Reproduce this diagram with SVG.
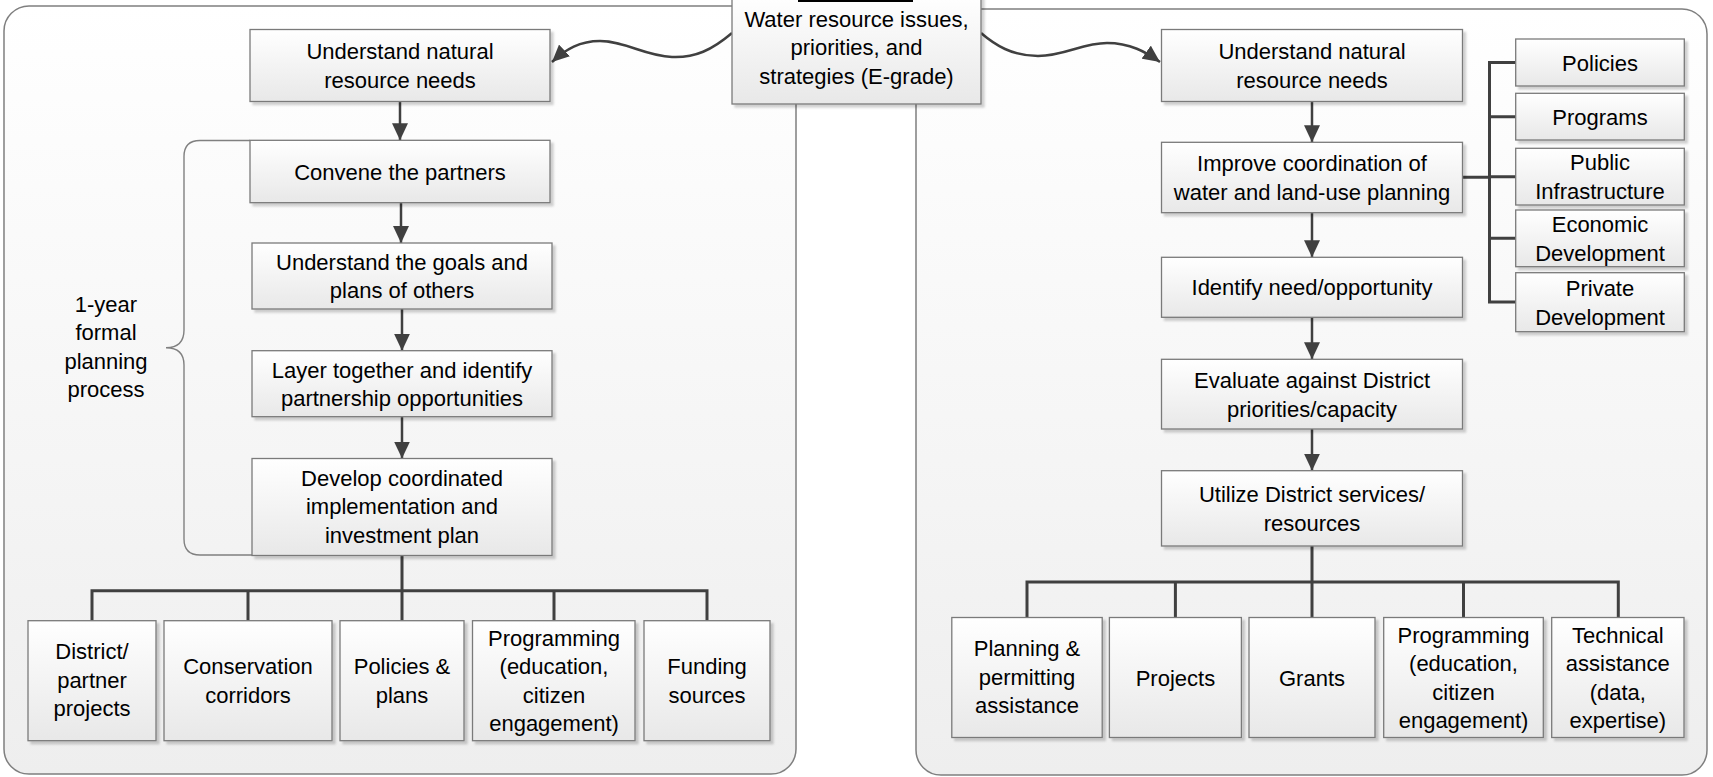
<svg xmlns="http://www.w3.org/2000/svg" width="1713" height="777" viewBox="0 0 1713 777">
<style>
.panel{fill:url(#pg);stroke:#7f7f7f;stroke-width:1.5}
.box{fill:url(#bg);stroke:#7a7a7a;stroke-width:1.3;filter:url(#sh)}
.t{font-family:"Liberation Sans",Arial,sans-serif;font-size:22px;fill:#000;text-anchor:middle}
.arr{fill:none;stroke:#404040;stroke-width:2.5;marker-end:url(#ah)}
.tree{fill:none;stroke:#404040;stroke-width:3}
.brace{fill:none;stroke:#808080;stroke-width:1.4}
</style>
<defs>
<linearGradient id="pg" x1="0" y1="0" x2="0" y2="1"><stop offset="0" stop-color="#ffffff"/><stop offset="1" stop-color="#eeeeee"/></linearGradient>
<linearGradient id="bg" x1="0" y1="0" x2="0" y2="1"><stop offset="0" stop-color="#ffffff"/><stop offset="1" stop-color="#e8e8e8"/></linearGradient>
<filter id="sh" x="-10%" y="-10%" width="130%" height="130%"><feDropShadow dx="3" dy="3" stdDeviation="1.2" flood-color="#000" flood-opacity="0.18"/></filter>
<marker id="ah" markerUnits="userSpaceOnUse" markerWidth="18" markerHeight="16" refX="17" refY="8" orient="auto"><path d="M0,0 L17,8 L0,16 Z" fill="#404040"/></marker>
</defs>
<rect width="1713" height="777" fill="#ffffff"/>
<g id="panel-left"><rect class="panel" x="4" y="6" width="792" height="768" rx="25"/></g>
<g id="panel-right"><rect class="panel" x="916" y="9" width="791" height="766" rx="25"/></g>

<g id="connectors">
<path class="arr" d="M732,33 C712,50 695,58 672,57 C645,56 625,41 600,41 C580,41 566,49 552,62"/>
<path class="arr" d="M981,33 C995,45 1012,56 1038,56 C1065,56 1082,43 1107,43 C1130,43 1146,52 1160,62"/>
<path class="arr" d="M400,101.5 V140.3"/>
<path class="arr" d="M401,202.7 V243"/>
<path class="arr" d="M402,309 V350.7"/>
<path class="arr" d="M402,416.7 V458.5"/>
<path class="tree" d="M402,555.5 V590.7 M92,620.7 V590.7 H707 V620.7 M248,590.7 V620.7 M402,590.7 V620.7 M554,590.7 V620.7"/>
<path class="arr" d="M1312,101.5 V142.3"/>
<path class="arr" d="M1312,212.7 V257.3"/>
<path class="arr" d="M1312,317.3 V359.3"/>
<path class="arr" d="M1312,429 V470.7"/>
<path class="tree" d="M1462.5,177.3 H1489.5 M1515.7,62.5 H1489.5 V302 H1515.7 M1489.5,116.7 H1515.7 M1489.5,176.7 H1515.7 M1489.5,238.3 H1515.7"/>
<path class="tree" d="M1312,546 V582 M1027,617.5 V582 H1618.3 V617.5 M1175.4,582 V617.5 M1312,582 V617.5 M1463.5,582 V617.5"/>
<path class="brace" d="M250,140.5 H200 Q184,140.5 184,156.5 V330 Q184,347.7 166,347.7 Q184,347.7 184,365 V539 Q184,555 200,555 H252"/>
</g>

<g id="central">
<rect class="box" x="732" y="-5" width="249" height="109"/>
<rect x="798" y="0" width="115" height="2" fill="#000"/>
<text class="t" x="856.5" y="27">Water resource issues,</text>
<text class="t" x="856.5" y="55">priorities, and</text>
<text class="t" x="856.5" y="83.5">strategies (E-grade)</text>
</g>

<g id="bracket-label">
<text class="t" x="106" y="311.7">1-year</text>
<text class="t" x="106" y="340">formal</text>
<text class="t" x="106" y="368.5">planning</text>
<text class="t" x="106" y="397">process</text>
</g>

<g id="L1"><rect class="box" x="250" y="29.5" width="300" height="72"/>
<text class="t" x="400" y="59.25">Understand natural</text><text class="t" x="400" y="87.75">resource needs</text></g>
<g id="L2"><rect class="box" x="250" y="140.3" width="300" height="62.4"/>
<text class="t" x="400" y="179.5">Convene the partners</text></g>
<g id="L3"><rect class="box" x="252" y="243" width="300" height="66"/>
<text class="t" x="402" y="269.75">Understand the goals and</text><text class="t" x="402" y="298.25">plans of others</text></g>
<g id="L4"><rect class="box" x="252" y="350.7" width="300" height="66"/>
<text class="t" x="402" y="377.5">Layer together and identify</text><text class="t" x="402" y="406">partnership opportunities</text></g>
<g id="L5"><rect class="box" x="252" y="458.5" width="300" height="97"/>
<text class="t" x="402" y="485.5">Develop coordinated</text><text class="t" x="402" y="514">implementation and</text><text class="t" x="402" y="542.5">investment plan</text></g>

<g id="B1"><rect class="box" x="28" y="620.7" width="128" height="120"/>
<text class="t" x="92" y="659.2">District/</text><text class="t" x="92" y="687.7">partner</text><text class="t" x="92" y="716.2">projects</text></g>
<g id="B2"><rect class="box" x="164" y="620.7" width="168" height="120"/>
<text class="t" x="248" y="674.45">Conservation</text><text class="t" x="248" y="702.95">corridors</text></g>
<g id="B3"><rect class="box" x="340" y="620.7" width="124" height="120"/>
<text class="t" x="402" y="674.45">Policies &amp;</text><text class="t" x="402" y="702.95">plans</text></g>
<g id="B4"><rect class="box" x="472.5" y="620.7" width="162.5" height="120"/>
<text class="t" x="554" y="645.95">Programming</text><text class="t" x="554" y="674.45">(education,</text><text class="t" x="554" y="702.95">citizen</text><text class="t" x="554" y="731.45">engagement)</text></g>
<g id="B5"><rect class="box" x="644" y="620.7" width="126" height="120"/>
<text class="t" x="707" y="674.45">Funding</text><text class="t" x="707" y="702.95">sources</text></g>

<g id="R1"><rect class="box" x="1161.5" y="29.5" width="301" height="72"/>
<text class="t" x="1312" y="59.25">Understand natural</text><text class="t" x="1312" y="87.75">resource needs</text></g>
<g id="R2"><rect class="box" x="1161.5" y="142.3" width="301" height="70.4"/>
<text class="t" x="1312" y="171.25">Improve coordination of</text><text class="t" x="1312" y="199.75">water and land-use planning</text></g>
<g id="R3"><rect class="box" x="1161.5" y="257.3" width="301" height="60"/>
<text class="t" x="1312" y="295.3">Identify need/opportunity</text></g>
<g id="R4"><rect class="box" x="1161.5" y="359.3" width="301" height="69.7"/>
<text class="t" x="1312" y="388">Evaluate against District</text><text class="t" x="1312" y="416.5">priorities/capacity</text></g>
<g id="R5"><rect class="box" x="1161.5" y="470.7" width="301" height="75.3"/>
<text class="t" x="1312" y="502">Utilize District services/</text><text class="t" x="1312" y="530.5">resources</text></g>

<g id="S1"><rect class="box" x="1515.7" y="39" width="168.6" height="47"/>
<text class="t" x="1600" y="70.5">Policies</text></g>
<g id="S2"><rect class="box" x="1515.7" y="93.3" width="168.6" height="46.7"/>
<text class="t" x="1600" y="124.7">Programs</text></g>
<g id="S3"><rect class="box" x="1515.7" y="148.3" width="168.6" height="56.7"/>
<text class="t" x="1600" y="170.4">Public</text><text class="t" x="1600" y="198.9">Infrastructure</text></g>
<g id="S4"><rect class="box" x="1515.7" y="210" width="168.6" height="56.7"/>
<text class="t" x="1600" y="232">Economic</text><text class="t" x="1600" y="260.5">Development</text></g>
<g id="S5"><rect class="box" x="1515.7" y="272.7" width="168.6" height="59"/>
<text class="t" x="1600" y="296">Private</text><text class="t" x="1600" y="324.5">Development</text></g>

<g id="RB1"><rect class="box" x="951.8" y="617.5" width="150.4" height="120"/>
<text class="t" x="1027" y="656">Planning &amp;</text><text class="t" x="1027" y="684.5">permitting</text><text class="t" x="1027" y="713">assistance</text></g>
<g id="RB2"><rect class="box" x="1109.4" y="617.5" width="132" height="120"/>
<text class="t" x="1175.4" y="685.5">Projects</text></g>
<g id="RB3"><rect class="box" x="1249" y="617.5" width="126" height="120"/>
<text class="t" x="1312" y="685.5">Grants</text></g>
<g id="RB4"><rect class="box" x="1383.7" y="617.5" width="159.6" height="120"/>
<text class="t" x="1463.5" y="642.75">Programming</text><text class="t" x="1463.5" y="671.25">(education,</text><text class="t" x="1463.5" y="699.75">citizen</text><text class="t" x="1463.5" y="728.25">engagement)</text></g>
<g id="RB5"><rect class="box" x="1551.7" y="617.5" width="132.3" height="120"/>
<text class="t" x="1617.8" y="642.75">Technical</text><text class="t" x="1617.8" y="671.25">assistance</text><text class="t" x="1617.8" y="699.75">(data,</text><text class="t" x="1617.8" y="728.25">expertise)</text></g>
</svg>
